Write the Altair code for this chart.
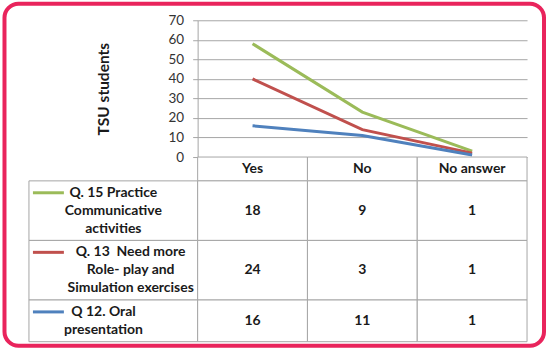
import altair as alt
import pandas as pd

# ---------------- data ----------------
categories = ["Yes", "No", "No answer"]
series_keys = ["Q15", "Q13", "Q12"]
series_labels = [
    ["Q. 15 Practice", "Communicative", "activities"],
    ["Q. 13\u00a0 Need more", "Role- play and", "Simulation exercises"],
    ["Q 12. Oral", "presentation"],
]
series_colors = ["#9BBB59", "#C0504D", "#4F81BD"]
values_q15 = [18, 9, 1]
values_q13 = [24, 3, 1]
values_q12 = [16, 11, 1]
y_ticks = [0, 10, 20, 30, 40, 50, 60, 70]
y_title = "TSU students"

series_values = [values_q15, values_q13, values_q12]
stack_rank = {"Q12": 0, "Q13": 1, "Q15": 2}

# ---------------- sizes / styles ----------------
LABEL_W = 169
PLOT_W = 330
PLOT_H = 137
TABLE_H = 185
GRID = "#A6A6A6"
TXT = "#1a1a1a"
FONT = "Lato"

# long data for the lines
long_rows = []
for key, vals in zip(series_keys, series_values):
    for ci, (cat, v) in enumerate(zip(categories, vals)):
        long_rows.append({"series": key, "cat": cat, "ci": ci, "value": v,
                          "rank": stack_rank[key]})
long_df = pd.DataFrame(long_rows)

# table row extents, in text-line units (each row = lines + 1/3 padding)
PAD = 1 / 3
hdr_y0, hdr_y1 = 0.0, 1 + PAD
row_extents = []
cur = hdr_y1
for lines in series_labels:
    row_extents.append((cur, cur + len(lines) + PAD))
    cur += len(lines) + PAD
total_units = cur

cell_rows = []
for cat in categories:
    cell_rows.append({"cat": cat, "y0": hdr_y0, "y1": hdr_y1,
                      "ym": (hdr_y0 + hdr_y1) / 2, "txt": cat})
for (y0, y1), vals in zip(row_extents, series_values):
    for cat, v in zip(categories, vals):
        cell_rows.append({"cat": cat, "y0": y0, "y1": y1,
                          "ym": (y0 + y1) / 2, "txt": str(v)})
cell_df = pd.DataFrame(cell_rows)


def est_width(s):
    w = 0.0
    for ch in s:
        if ch in "iltrfj. -\u00a0":
            w += 0.55
        elif ch in "mwMW":
            w += 1.5
        elif ch.isupper():
            w += 1.2
        else:
            w += 1.0
    return w * 7.4


label_rows = []
for key, lines, (y0, y1) in zip(series_keys, series_labels, row_extents):
    block = max(est_width(s) for s in lines)
    label_rows.append({"series": key, "lines": lines, "y0": y0, "y1": y1,
                       "ky": y0 + PAD / 2 + 0.5,
                       "cx": 37 + block / 2})
label_df = pd.DataFrame(label_rows)

color_scale = alt.Scale(domain=series_keys, range=series_colors)
yscale_tab = alt.Scale(domain=[0, total_units], reverse=True, nice=False, zero=False)
xband = alt.Scale(domain=categories, paddingInner=0, paddingOuter=0)

# ---------------- top-left: spacer with the frame ----------------
spacer = alt.Chart(pd.DataFrame({"k": [0]})).mark_rect(
    fill="white", fillOpacity=0, stroke="#E9245C", strokeWidth=4, cornerRadius=14
).encode(
    x=alt.value(-24.5), x2=alt.value(516), y=alt.value(-16.5), y2=alt.value(326)
).properties(width=LABEL_W, height=PLOT_H)

# ---------------- top-right: stacked lines ----------------
line = alt.Chart(long_df).transform_stack(
    stack="value", groupby=["cat"], as_=["s0", "s1"],
    sort=[alt.SortField("rank", order="ascending")]
).mark_line(strokeWidth=3).encode(
    x=alt.X("cat:N", sort=categories,
            scale=alt.Scale(domain=categories, type="point", padding=0.5),
            axis=None),
    y=alt.Y("s1:Q", scale=alt.Scale(domain=[0, 70], nice=False),
            axis=alt.Axis(values=y_ticks, format="d", title=y_title,
                          titleFont=FONT, titleFontSize=15.5, titleFontWeight="bold",
                          titleColor=TXT, titleX=-94, titleY=PLOT_H / 2,
                          titleAlign="center", titleBaseline="middle",
                          labelFont=FONT, labelFontSize=13.5, labelColor="#333333",
                          labelPadding=9, tickSize=5, tickColor=GRID,
                          domainColor=GRID, gridColor=GRID, grid=True)),
    color=alt.Color("series:N", scale=color_scale, legend=None),
    order=alt.Order("ci:Q"),
).properties(width=PLOT_W, height=PLOT_H)

# ---------------- bottom-left: row labels ----------------
lab_cells = alt.Chart(label_df).mark_rect(
    fill="white", stroke=GRID, strokeWidth=1
).encode(
    x=alt.value(0), x2=alt.value(LABEL_W),
    y=alt.Y("y0:Q", scale=yscale_tab, axis=None), y2="y1:Q",
)
lab_keys = alt.Chart(label_df).mark_rule(strokeWidth=3).encode(
    x=alt.value(4), x2=alt.value(35),
    y=alt.Y("ky:Q", scale=yscale_tab, axis=None),
    color=alt.Color("series:N", scale=color_scale, legend=None),
)
lab_text = alt.Chart(label_df).mark_text(
    font=FONT, fontSize=14, fontWeight="bold", color=TXT, lineHeight=18,
    align="center", baseline="middle"
).encode(
    x=alt.X("cx:Q", scale=alt.Scale(domain=[0, LABEL_W], nice=False, zero=True), axis=None),
    y=alt.Y("ky:Q", scale=yscale_tab, axis=None),
    text=alt.Text("lines:N"),
)
labels = alt.layer(lab_cells, lab_keys, lab_text).properties(width=LABEL_W, height=TABLE_H)

# ---------------- bottom-right: values table ----------------
val_cells = alt.Chart(cell_df).mark_rect(
    fill="white", stroke=GRID, strokeWidth=1
).encode(
    x=alt.X("cat:N", sort=categories, scale=xband, axis=None),
    y=alt.Y("y0:Q", scale=yscale_tab, axis=None), y2="y1:Q",
)
val_text = alt.Chart(cell_df).mark_text(
    font=FONT, fontSize=14, fontWeight="bold", color=TXT, baseline="middle"
).encode(
    x=alt.X("cat:N", sort=categories, scale=xband, axis=None),
    y=alt.Y("ym:Q", scale=yscale_tab, axis=None),
    text=alt.Text("txt:N"),
)
values = alt.layer(val_cells, val_text).properties(width=PLOT_W, height=TABLE_H)

chart = alt.concat(
    spacer, line, labels, values, columns=2, spacing=0, bounds="flush"
).properties(
    padding={"left": 2, "top": 1, "right": 4, "bottom": 1},
    background="white",
).configure_view(stroke="transparent")

chart.save("out.html", embed_options={"renderer": "svg", "actions": False})
